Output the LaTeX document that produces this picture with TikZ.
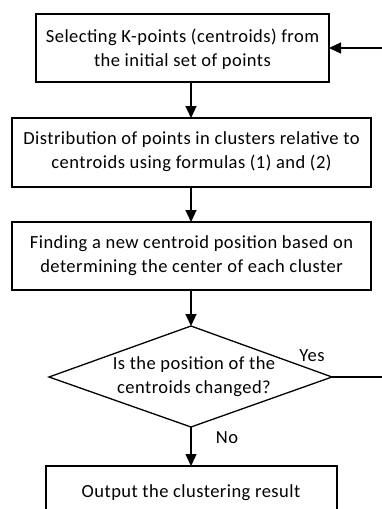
\documentclass[tikz,border=0pt]{standalone}
\usepackage{fontspec}
\setmainfont{Carlito}[LetterSpace=2.5]
\usetikzlibrary{arrows.meta,shapes.geometric}
\begin{document}
\begin{tikzpicture}[x=1pt,y=-1pt,
  line width=1.3pt,
  flow/.style={-{Triangle[length=12pt,width=11pt]}},
  txt/.style={font=\fontsize{18.5}{24}\selectfont, align=center, inner sep=0pt},
]
\useasboundingbox (0,0) rectangle (382,509);
\clip (0,0) rectangle (382,509);
% process boxes
\draw (36,14) rectangle (329,82);
\node[txt] (b1) at (182.5,49) {Selecting K-points (centroids) from\\the initial set of points};
\draw (12,118) rectangle (371,187);
\node[txt] (b2) at (191.5,152) {Distribution of points in clusters relative to\\centroids using formulas (1) and (2)};
\draw (12,222) rectangle (371,290);
\node[txt] (b3) at (191.5,256) {Finding a new centroid position based on\\determining the center of each cluster};
% decision
\coordinate (dt) at (191,326);
\coordinate (dl) at (49,377);
\coordinate (dr) at (332,377);
\coordinate (db) at (191,427);
\draw (dt) -- (dr) -- (db) -- (dl) -- cycle;
\node[txt] (d) at (194,377) {Is the position of the\\centroids changed?};
% output box (continues past the lower edge)
\draw (46,520) -- (46,466) -- (337,466) -- (337,520);
\node[txt] (b4) at (191,493) {Output the clustering result};
% connectors
\coordinate (b1s) at (191,82);
\coordinate (b2n) at (191,118);
\coordinate (b2s) at (191,187);
\coordinate (b3n) at (191,222);
\coordinate (b3s) at (191,290);
\coordinate (b4n) at (191,466);
\coordinate (b1e) at (329,48);
\coordinate (loopa) at (392,377);
\coordinate (loopb) at (392,48);
\draw[flow] (b1s) -- (b2n);
\draw[flow] (b2s) -- (b3n);
\draw[flow] (b3s) -- (dt);
\draw[flow] (db) -- (b4n);
\draw[flow] (dr) -- (loopa) -- (loopb) -- (b1e);
\node[txt, font=\fontsize{18.5}{20}\selectfont] (yes) at (312,356) {Yes};
\node[txt, font=\fontsize{18.5}{20}\selectfont] (no) at (227,438) {No};
\end{tikzpicture}
\end{document}
